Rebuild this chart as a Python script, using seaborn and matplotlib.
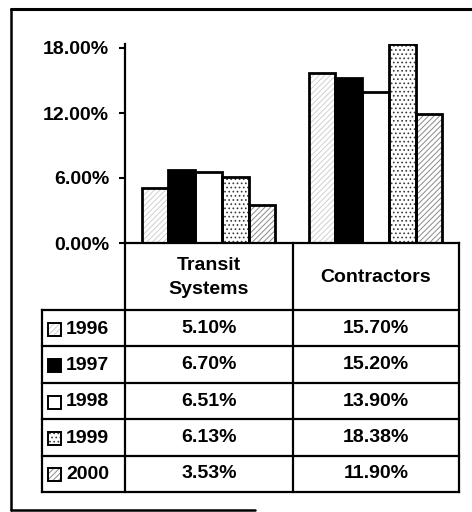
import matplotlib
matplotlib.use("Agg")
import matplotlib.pyplot as plt
from matplotlib.patches import Rectangle
import seaborn as sns
import pandas as pd

# Share of revenue by sector and year
categories = ["Transit\nSystems", "Contractors"]
years = ["1996", "1997", "1998", "1999", "2000"]
transit = [5.10, 6.70, 6.51, 6.13, 3.53]
contractors = [15.70, 15.20, 13.90, 18.38, 11.90]
yticks = [0, 6, 12, 18]

# Fill, hatch pattern and hatch colour for each year
faces = ["white", "black", "white", "white", "white"]
hatches = ["//////", "", "", "....", "//////"]
hatch_colors = ["#d0d0d0", "black", "white", "#3a3a3a", "#8a8a8a"]

sns.set_theme(style="white")
plt.rcParams["font.family"] = ["Liberation Sans", "DejaVu Sans"]
plt.rcParams["hatch.linewidth"] = 0.7

FS = 14
FW = "bold"

rows = []
for yr, t, c in zip(years, transit, contractors):
    rows.append({"category": categories[0], "year": yr, "value": t})
    rows.append({"category": categories[1], "year": yr, "value": c})
df = pd.DataFrame(rows)

W, H = 472, 512
fig = plt.figure(figsize=(W / 100, H / 100), dpi=100)
fig.patch.set_facecolor("white")

# pixel geometry of the plotting area
x0, x1 = 125, 459
y_zero, y_top_val = 243, 48   # pixel rows of 0% and 18%
ymax = 18.4
px_per = (y_zero - y_top_val) / 18.0
y_top = y_zero - ymax * px_per
ax = fig.add_axes([x0 / W, 1 - y_zero / H, (x1 - x0) / W, (y_zero - y_top) / H])

sns.barplot(data=df, x="category", y="value", hue="year", order=categories,
            hue_order=years, palette=dict(zip(years, faces)), width=0.8,
            saturation=1, legend=False, ax=ax, linewidth=0)

for i, cont in enumerate(ax.containers):
    for bar in cont:
        bar.set_hatch(hatches[i])
        bar.set_edgecolor(hatch_colors[i])
        bar.set_linewidth(0)
        ax.add_patch(Rectangle((bar.get_x(), bar.get_y()), bar.get_width(),
                               bar.get_height(), fill=False, edgecolor="black",
                               linewidth=2.0, zorder=3))

ax.set_ylim(0, ymax)
ax.set_xlim(-0.5, 1.5)
ax.set_yticks(yticks)
ax.set_yticklabels([f"{v:.2f}%" for v in yticks], fontsize=FS, fontweight=FW)
ax.set_xticks([])
ax.set_xlabel("")
ax.set_ylabel("")
ax.tick_params(axis="y", direction="out", length=4.5, width=1.5, pad=7,
               left=True, colors="black")
for s in ["top", "right"]:
    ax.spines[s].set_visible(False)
for s in ["left", "bottom"]:
    ax.spines[s].set_linewidth(1.6)
    ax.spines[s].set_color("black")
ax.patch.set_alpha(0)

# data table beneath the bars, drawn in pixel coordinates
tb = fig.add_axes([0, 0, 1, 1])
tb.set_xlim(0, W)
tb.set_ylim(H, 0)
tb.axis("off")
tb.patch.set_alpha(0)

lw = 1.6
x_leg, x_mid = 42, 293
y_head = 310
row_h = (492 - y_head) / len(years)
y_bot = y_head + row_h * len(years)

for xv in (x0, x_mid, x1):
    tb.plot([xv, xv], [y_zero, y_bot], color="black", lw=lw, solid_capstyle="projecting")
tb.plot([x_leg, x_leg], [y_head, y_bot], color="black", lw=lw, solid_capstyle="projecting")
for k in range(len(years) + 1):
    yv = y_head + k * row_h
    tb.plot([x_leg, x1], [yv, yv], color="black", lw=lw, solid_capstyle="projecting")

centers = [(x0 + x_mid) / 2, (x_mid + x1) / 2]
for cx, name in zip(centers, categories):
    tb.text(cx, (y_zero + y_head) / 2 + 1, name, ha="center", va="center",
            fontsize=FS, fontweight=FW, linespacing=1.55, color="black")

for k, (yr, t, c) in enumerate(zip(years, transit, contractors)):
    yc = y_head + (k + 0.5) * row_h
    sw = 13
    tb.add_patch(Rectangle((48, yc - sw / 2 + 1), sw, sw, facecolor=faces[k],
                           edgecolor=hatch_colors[k], hatch=hatches[k], lw=0))
    tb.add_patch(Rectangle((48, yc - sw / 2 + 1), sw, sw, fill=False,
                           edgecolor="black", lw=1.4))
    tb.text(66, yc + 1, yr, ha="left", va="center", fontsize=FS,
            fontweight=FW, color="black")
    tb.text(centers[0], yc, f"{t:.2f}%", ha="center", va="center",
            fontsize=FS, fontweight=FW, color="black")
    tb.text(centers[1], yc, f"{c:.2f}%", ha="center", va="center",
            fontsize=FS, fontweight=FW, color="black")

# outer frame
tb.plot([11, W], [9, 9], color="black", lw=2.2)
tb.plot([11, 11], [9, 510], color="black", lw=1.8)
tb.plot([11, 255], [510, 510], color="black", lw=1.8)

fig.savefig("out.png", dpi=100, facecolor="white")
